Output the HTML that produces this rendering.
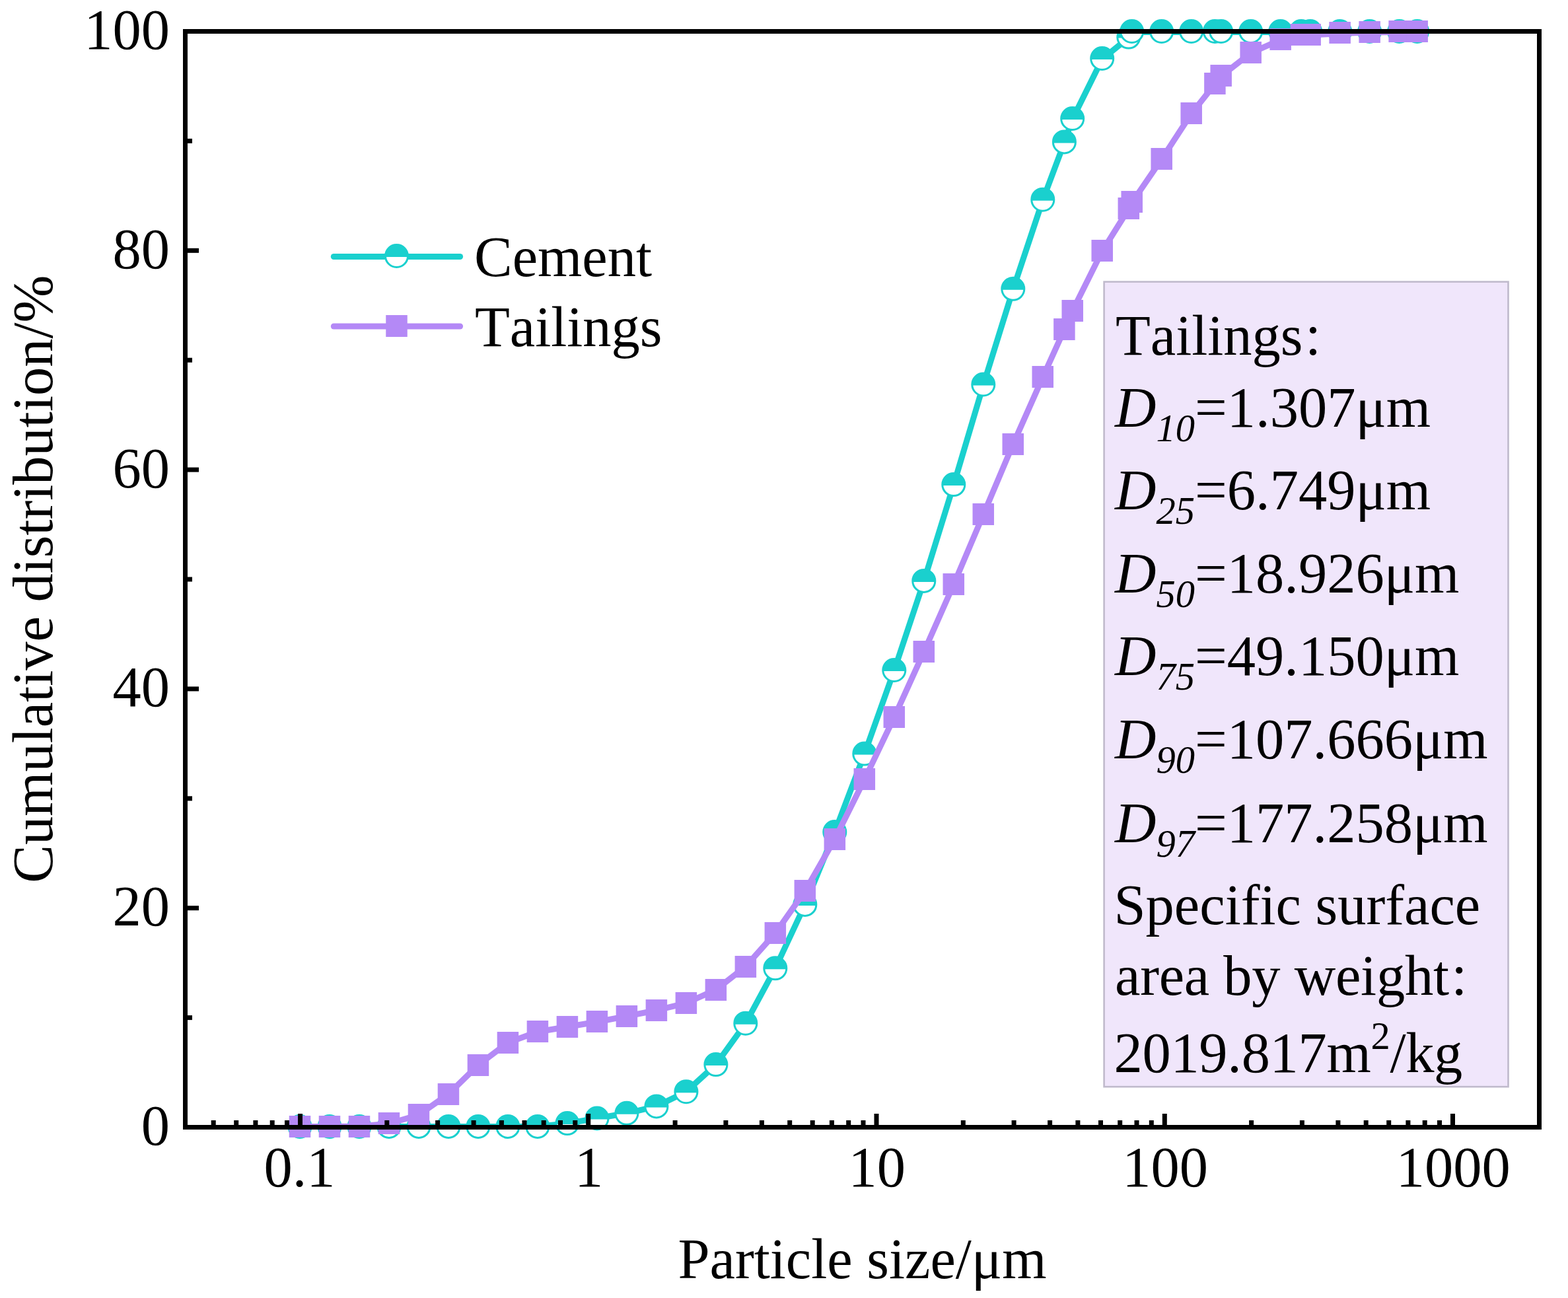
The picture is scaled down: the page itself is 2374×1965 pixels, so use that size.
<!DOCTYPE html>
<html lang="en"><head><meta charset="utf-8"><title>Particle size distribution</title>
<style>html,body{margin:0;padding:0;background:#fff}body{width:2374px;height:1965px;overflow:hidden}svg{display:block}text{font-family:"Liberation Serif", "Noto Sans CJK SC", serif;font-size:86.5px;fill:#000;font-kerning:none;font-variant-ligatures:none;white-space:pre}.it{font-style:italic}.sb{font-size:58.5px}.cn{font-size:66px}</style></head><body>
<svg width="2374" height="1965" viewBox="0 0 2374 1965">
<rect width="2374" height="1965" fill="#fff"/>
<rect x="1671.6" y="426.6" width="611.9" height="1218.6" fill="#f0e6fb" stroke="#c0bacc" stroke-width="2.6"/>
<g>
<polyline fill="none" stroke="#1ad0ce" stroke-width="9" stroke-linejoin="round" stroke-linecap="round" points="454.0,1705.4 499.0,1705.4 544.0,1705.4 589.0,1705.4 634.0,1705.4 679.0,1705.4 723.9,1705.4 768.9,1705.4 813.9,1705.4 858.9,1700.6 903.9,1693.0 948.9,1685.3 993.9,1674.9 1038.9,1652.7 1083.9,1611.7 1128.8,1549.3 1173.8,1465.9 1218.8,1369.6 1263.8,1259.8 1308.8,1141.4 1353.8,1014.9 1398.8,879.9 1443.8,734.2 1488.8,582.7 1533.8,438.1 1578.8,303.0 1611.4,215.8 1623.7,180.4 1668.7,89.5 1708.8,57.1 1713.7,48.5 1758.7,48.5 1803.7,48.5 1839.4,48.5 1848.7,48.5 1893.7,48.5 1938.7,48.5 1970.0,48.5 1983.7,48.5 2028.7,48.5 2073.6,48.5 2118.6,48.5 2145.7,48.5"/>
<circle cx="454.0" cy="1705.4" r="17.0" fill="#fff" stroke="#1ad0ce" stroke-width="3"/><path d="M436.56 1706.90A17.5 17.5 0 1 1 471.44 1706.90Z" fill="#1ad0ce"/>
<circle cx="499.0" cy="1705.4" r="17.0" fill="#fff" stroke="#1ad0ce" stroke-width="3"/><path d="M481.55 1706.90A17.5 17.5 0 1 1 516.43 1706.90Z" fill="#1ad0ce"/>
<circle cx="544.0" cy="1705.4" r="17.0" fill="#fff" stroke="#1ad0ce" stroke-width="3"/><path d="M526.54 1706.90A17.5 17.5 0 1 1 561.42 1706.90Z" fill="#1ad0ce"/>
<circle cx="589.0" cy="1705.4" r="17.0" fill="#fff" stroke="#1ad0ce" stroke-width="3"/><path d="M571.53 1706.90A17.5 17.5 0 1 1 606.41 1706.90Z" fill="#1ad0ce"/>
<circle cx="634.0" cy="1705.4" r="17.0" fill="#fff" stroke="#1ad0ce" stroke-width="3"/><path d="M616.52 1706.90A17.5 17.5 0 1 1 651.40 1706.90Z" fill="#1ad0ce"/>
<circle cx="679.0" cy="1705.4" r="17.0" fill="#fff" stroke="#1ad0ce" stroke-width="3"/><path d="M661.51 1706.90A17.5 17.5 0 1 1 696.39 1706.90Z" fill="#1ad0ce"/>
<circle cx="723.9" cy="1705.4" r="17.0" fill="#fff" stroke="#1ad0ce" stroke-width="3"/><path d="M706.50 1706.90A17.5 17.5 0 1 1 741.38 1706.90Z" fill="#1ad0ce"/>
<circle cx="768.9" cy="1705.4" r="17.0" fill="#fff" stroke="#1ad0ce" stroke-width="3"/><path d="M751.49 1706.90A17.5 17.5 0 1 1 786.37 1706.90Z" fill="#1ad0ce"/>
<circle cx="813.9" cy="1705.4" r="17.0" fill="#fff" stroke="#1ad0ce" stroke-width="3"/><path d="M796.48 1706.90A17.5 17.5 0 1 1 831.36 1706.90Z" fill="#1ad0ce"/>
<circle cx="858.9" cy="1700.6" r="17.0" fill="#fff" stroke="#1ad0ce" stroke-width="3"/><path d="M841.47 1702.10A17.5 17.5 0 1 1 876.35 1702.10Z" fill="#1ad0ce"/>
<circle cx="903.9" cy="1693.0" r="17.0" fill="#fff" stroke="#1ad0ce" stroke-width="3"/><path d="M886.46 1694.50A17.5 17.5 0 1 1 921.34 1694.50Z" fill="#1ad0ce"/>
<circle cx="948.9" cy="1685.3" r="17.0" fill="#fff" stroke="#1ad0ce" stroke-width="3"/><path d="M931.45 1686.80A17.5 17.5 0 1 1 966.33 1686.80Z" fill="#1ad0ce"/>
<circle cx="993.9" cy="1674.9" r="17.0" fill="#fff" stroke="#1ad0ce" stroke-width="3"/><path d="M976.44 1676.40A17.5 17.5 0 1 1 1011.32 1676.40Z" fill="#1ad0ce"/>
<circle cx="1038.9" cy="1652.7" r="17.0" fill="#fff" stroke="#1ad0ce" stroke-width="3"/><path d="M1021.43 1654.20A17.5 17.5 0 1 1 1056.31 1654.20Z" fill="#1ad0ce"/>
<circle cx="1083.9" cy="1611.6" r="17.0" fill="#fff" stroke="#1ad0ce" stroke-width="3"/><path d="M1066.42 1613.10A17.5 17.5 0 1 1 1101.30 1613.10Z" fill="#1ad0ce"/>
<circle cx="1128.8" cy="1549.2" r="17.0" fill="#fff" stroke="#1ad0ce" stroke-width="3"/><path d="M1111.41 1550.70A17.5 17.5 0 1 1 1146.29 1550.70Z" fill="#1ad0ce"/>
<circle cx="1173.8" cy="1465.8" r="17.0" fill="#fff" stroke="#1ad0ce" stroke-width="3"/><path d="M1156.40 1467.30A17.5 17.5 0 1 1 1191.28 1467.30Z" fill="#1ad0ce"/>
<circle cx="1218.8" cy="1369.4" r="17.0" fill="#fff" stroke="#1ad0ce" stroke-width="3"/><path d="M1201.39 1370.90A17.5 17.5 0 1 1 1236.27 1370.90Z" fill="#1ad0ce"/>
<circle cx="1263.8" cy="1259.5" r="17.0" fill="#fff" stroke="#1ad0ce" stroke-width="3"/><path d="M1246.38 1261.00A17.5 17.5 0 1 1 1281.26 1261.00Z" fill="#1ad0ce"/>
<circle cx="1308.8" cy="1141.1" r="17.0" fill="#fff" stroke="#1ad0ce" stroke-width="3"/><path d="M1291.37 1142.60A17.5 17.5 0 1 1 1326.25 1142.60Z" fill="#1ad0ce"/>
<circle cx="1353.8" cy="1014.5" r="17.0" fill="#fff" stroke="#1ad0ce" stroke-width="3"/><path d="M1336.36 1016.00A17.5 17.5 0 1 1 1371.24 1016.00Z" fill="#1ad0ce"/>
<circle cx="1398.8" cy="879.4" r="17.0" fill="#fff" stroke="#1ad0ce" stroke-width="3"/><path d="M1381.35 880.90A17.5 17.5 0 1 1 1416.23 880.90Z" fill="#1ad0ce"/>
<circle cx="1443.8" cy="733.6" r="17.0" fill="#fff" stroke="#1ad0ce" stroke-width="3"/><path d="M1426.34 735.10A17.5 17.5 0 1 1 1461.22 735.10Z" fill="#1ad0ce"/>
<circle cx="1488.8" cy="582.0" r="17.0" fill="#fff" stroke="#1ad0ce" stroke-width="3"/><path d="M1471.33 583.50A17.5 17.5 0 1 1 1506.21 583.50Z" fill="#1ad0ce"/>
<circle cx="1533.8" cy="437.3" r="17.0" fill="#fff" stroke="#1ad0ce" stroke-width="3"/><path d="M1516.32 438.80A17.5 17.5 0 1 1 1551.20 438.80Z" fill="#1ad0ce"/>
<circle cx="1578.8" cy="302.2" r="17.0" fill="#fff" stroke="#1ad0ce" stroke-width="3"/><path d="M1561.31 303.70A17.5 17.5 0 1 1 1596.19 303.70Z" fill="#1ad0ce"/>
<circle cx="1611.4" cy="214.9" r="17.0" fill="#fff" stroke="#1ad0ce" stroke-width="3"/><path d="M1593.96 216.40A17.5 17.5 0 1 1 1628.84 216.40Z" fill="#1ad0ce"/>
<circle cx="1623.7" cy="179.5" r="17.0" fill="#fff" stroke="#1ad0ce" stroke-width="3"/><path d="M1606.30 181.00A17.5 17.5 0 1 1 1641.18 181.00Z" fill="#1ad0ce"/>
<circle cx="1668.7" cy="88.5" r="17.0" fill="#fff" stroke="#1ad0ce" stroke-width="3"/><path d="M1651.29 90.00A17.5 17.5 0 1 1 1686.17 90.00Z" fill="#1ad0ce"/>
<circle cx="1708.8" cy="56.1" r="17.0" fill="#fff" stroke="#1ad0ce" stroke-width="3"/><path d="M1691.36 57.60A17.5 17.5 0 1 1 1726.24 57.60Z" fill="#1ad0ce"/>
<circle cx="1713.7" cy="47.5" r="17.0" fill="#fff" stroke="#1ad0ce" stroke-width="3"/><path d="M1696.28 49.00A17.5 17.5 0 1 1 1731.16 49.00Z" fill="#1ad0ce"/>
<circle cx="1758.7" cy="47.5" r="17.0" fill="#fff" stroke="#1ad0ce" stroke-width="3"/><path d="M1741.27 49.00A17.5 17.5 0 1 1 1776.15 49.00Z" fill="#1ad0ce"/>
<circle cx="1803.7" cy="47.5" r="17.0" fill="#fff" stroke="#1ad0ce" stroke-width="3"/><path d="M1786.26 49.00A17.5 17.5 0 1 1 1821.14 49.00Z" fill="#1ad0ce"/>
<circle cx="1839.4" cy="47.5" r="17.0" fill="#fff" stroke="#1ad0ce" stroke-width="3"/><path d="M1821.96 49.00A17.5 17.5 0 1 1 1856.84 49.00Z" fill="#1ad0ce"/>
<circle cx="1848.7" cy="47.5" r="17.0" fill="#fff" stroke="#1ad0ce" stroke-width="3"/><path d="M1831.25 49.00A17.5 17.5 0 1 1 1866.13 49.00Z" fill="#1ad0ce"/>
<circle cx="1893.7" cy="47.5" r="17.0" fill="#fff" stroke="#1ad0ce" stroke-width="3"/><path d="M1876.24 49.00A17.5 17.5 0 1 1 1911.12 49.00Z" fill="#1ad0ce"/>
<circle cx="1938.7" cy="47.5" r="17.0" fill="#fff" stroke="#1ad0ce" stroke-width="3"/><path d="M1921.23 49.00A17.5 17.5 0 1 1 1956.11 49.00Z" fill="#1ad0ce"/>
<circle cx="1970.0" cy="47.5" r="17.0" fill="#fff" stroke="#1ad0ce" stroke-width="3"/><path d="M1952.56 49.00A17.5 17.5 0 1 1 1987.44 49.00Z" fill="#1ad0ce"/>
<circle cx="1983.7" cy="47.5" r="17.0" fill="#fff" stroke="#1ad0ce" stroke-width="3"/><path d="M1966.22 49.00A17.5 17.5 0 1 1 2001.10 49.00Z" fill="#1ad0ce"/>
<circle cx="2028.7" cy="47.5" r="17.0" fill="#fff" stroke="#1ad0ce" stroke-width="3"/><path d="M2011.21 49.00A17.5 17.5 0 1 1 2046.09 49.00Z" fill="#1ad0ce"/>
<circle cx="2073.6" cy="47.5" r="17.0" fill="#fff" stroke="#1ad0ce" stroke-width="3"/><path d="M2056.20 49.00A17.5 17.5 0 1 1 2091.08 49.00Z" fill="#1ad0ce"/>
<circle cx="2118.6" cy="47.5" r="17.0" fill="#fff" stroke="#1ad0ce" stroke-width="3"/><path d="M2101.19 49.00A17.5 17.5 0 1 1 2136.07 49.00Z" fill="#1ad0ce"/>
<circle cx="2145.7" cy="47.5" r="17.0" fill="#fff" stroke="#1ad0ce" stroke-width="3"/><path d="M2128.26 49.00A17.5 17.5 0 1 1 2163.14 49.00Z" fill="#1ad0ce"/>
</g><g>
<polyline fill="none" stroke="#b489f6" stroke-width="9" stroke-linejoin="round" stroke-linecap="round" points="454.0,1705.4 499.0,1705.4 544.0,1705.2 589.0,1701.0 634.0,1687.9 679.0,1656.2 723.9,1612.5 768.9,1578.4 813.9,1562.0 858.9,1554.5 903.9,1547.0 948.9,1538.4 993.9,1529.5 1038.9,1518.5 1083.9,1498.4 1128.8,1463.3 1173.8,1412.8 1218.8,1348.9 1263.8,1270.5 1308.8,1180.2 1353.8,1086.0 1398.8,986.8 1443.8,885.0 1488.8,779.1 1533.8,672.6 1578.8,571.2 1611.4,499.0 1623.7,470.8 1668.7,380.3 1708.8,316.5 1713.7,306.7 1758.7,241.1 1803.7,172.3 1839.4,127.3 1848.7,115.4 1893.7,80.2 1938.7,60.4 1970.0,53.9 1983.7,53.0 2028.7,50.7 2073.6,49.0 2118.6,48.5 2145.7,48.5"/>
<rect x="437.75" y="1689.0" width="32.5" height="33" fill="#b489f6"/>
<rect x="482.74" y="1689.0" width="32.5" height="33" fill="#b489f6"/>
<rect x="527.73" y="1689.0" width="32.5" height="33" fill="#b489f6"/>
<rect x="572.72" y="1684.0" width="32.5" height="33" fill="#b489f6"/>
<rect x="617.71" y="1671.0" width="32.5" height="33" fill="#b489f6"/>
<rect x="662.70" y="1640.0" width="32.5" height="33" fill="#b489f6"/>
<rect x="707.69" y="1596.0" width="32.5" height="33" fill="#b489f6"/>
<rect x="752.68" y="1562.0" width="32.5" height="33" fill="#b489f6"/>
<rect x="797.67" y="1545.0" width="32.5" height="33" fill="#b489f6"/>
<rect x="842.66" y="1538.0" width="32.5" height="33" fill="#b489f6"/>
<rect x="887.65" y="1530.0" width="32.5" height="33" fill="#b489f6"/>
<rect x="932.64" y="1522.0" width="32.5" height="33" fill="#b489f6"/>
<rect x="977.63" y="1513.0" width="32.5" height="33" fill="#b489f6"/>
<rect x="1022.62" y="1502.0" width="32.5" height="33" fill="#b489f6"/>
<rect x="1067.61" y="1482.0" width="32.5" height="33" fill="#b489f6"/>
<rect x="1112.60" y="1447.0" width="32.5" height="33" fill="#b489f6"/>
<rect x="1157.59" y="1396.0" width="32.5" height="33" fill="#b489f6"/>
<rect x="1202.58" y="1332.0" width="32.5" height="33" fill="#b489f6"/>
<rect x="1247.57" y="1254.0" width="32.5" height="33" fill="#b489f6"/>
<rect x="1292.56" y="1163.0" width="32.5" height="33" fill="#b489f6"/>
<rect x="1337.55" y="1069.0" width="32.5" height="33" fill="#b489f6"/>
<rect x="1382.54" y="970.0" width="32.5" height="33" fill="#b489f6"/>
<rect x="1427.53" y="868.0" width="32.5" height="33" fill="#b489f6"/>
<rect x="1472.52" y="762.0" width="32.5" height="33" fill="#b489f6"/>
<rect x="1517.51" y="656.0" width="32.5" height="33" fill="#b489f6"/>
<rect x="1562.50" y="554.0" width="32.5" height="33" fill="#b489f6"/>
<rect x="1595.15" y="482.0" width="32.5" height="33" fill="#b489f6"/>
<rect x="1607.49" y="454.0" width="32.5" height="33" fill="#b489f6"/>
<rect x="1652.48" y="363.0" width="32.5" height="33" fill="#b489f6"/>
<rect x="1692.55" y="299.0" width="32.5" height="33" fill="#b489f6"/>
<rect x="1697.47" y="289.0" width="32.5" height="33" fill="#b489f6"/>
<rect x="1742.46" y="224.0" width="32.5" height="33" fill="#b489f6"/>
<rect x="1787.45" y="155.0" width="32.5" height="33" fill="#b489f6"/>
<rect x="1823.15" y="110.0" width="32.5" height="33" fill="#b489f6"/>
<rect x="1832.44" y="98.0" width="32.5" height="33" fill="#b489f6"/>
<rect x="1877.43" y="63.0" width="32.5" height="33" fill="#b489f6"/>
<rect x="1922.42" y="43.0" width="32.5" height="33" fill="#b489f6"/>
<rect x="1953.75" y="36.0" width="32.5" height="33" fill="#b489f6"/>
<rect x="1967.41" y="36.0" width="32.5" height="33" fill="#b489f6"/>
<rect x="2012.40" y="33.0" width="32.5" height="33" fill="#b489f6"/>
<rect x="2057.39" y="32.0" width="32.5" height="33" fill="#b489f6"/>
<rect x="2102.38" y="31.0" width="32.5" height="33" fill="#b489f6"/>
<rect x="2129.45" y="31.0" width="32.5" height="33" fill="#b489f6"/>
</g>
<line x1="505.3" y1="388.5" x2="696.6" y2="388.5" stroke="#1ad0ce" stroke-width="9" stroke-linecap="round"/>
<circle cx="600.5" cy="387.5" r="17.0" fill="#fff" stroke="#1ad0ce" stroke-width="3"/><path d="M583.06 389.00A17.5 17.5 0 1 1 617.94 389.00Z" fill="#1ad0ce"/>
<line x1="505.3" y1="494" x2="696.6" y2="494" stroke="#b489f6" stroke-width="9" stroke-linecap="round"/>
<rect x="584.25" y="477.0" width="32.5" height="33" fill="#b489f6"/>
<text x="718" y="418">Cement</text>
<text x="719" y="524">Tailings</text>
<g fill="#000">
<rect x="280.5" y="47.5" width="2050.0" height="1659.0" fill="none" stroke="#000" stroke-width="7"/>
<rect x="284.0" y="1537.1" width="7" height="7"/>
<rect x="284.0" y="1371.2" width="17" height="7"/>
<rect x="284.0" y="1205.3" width="7" height="7"/>
<rect x="284.0" y="1039.4" width="17" height="7"/>
<rect x="284.0" y="873.5" width="7" height="7"/>
<rect x="284.0" y="707.6" width="17" height="7"/>
<rect x="284.0" y="541.7" width="7" height="7"/>
<rect x="284.0" y="375.8" width="17" height="7"/>
<rect x="284.0" y="209.9" width="7" height="7"/>
<rect x="319.7" y="1696.0" width="7" height="7"/>
<rect x="354.2" y="1696.0" width="7" height="7"/>
<rect x="383.4" y="1696.0" width="7" height="7"/>
<rect x="408.7" y="1696.0" width="7" height="7"/>
<rect x="431.0" y="1696.0" width="7" height="7"/>
<rect x="451.0" y="1686.0" width="7" height="17"/>
<rect x="582.3" y="1696.0" width="7" height="7"/>
<rect x="659.1" y="1696.0" width="7" height="7"/>
<rect x="713.6" y="1696.0" width="7" height="7"/>
<rect x="755.9" y="1696.0" width="7" height="7"/>
<rect x="790.5" y="1696.0" width="7" height="7"/>
<rect x="819.7" y="1696.0" width="7" height="7"/>
<rect x="845.0" y="1696.0" width="7" height="7"/>
<rect x="867.3" y="1696.0" width="7" height="7"/>
<rect x="887.2" y="1686.0" width="7" height="17"/>
<rect x="1018.6" y="1696.0" width="7" height="7"/>
<rect x="1095.4" y="1696.0" width="7" height="7"/>
<rect x="1149.9" y="1696.0" width="7" height="7"/>
<rect x="1192.2" y="1696.0" width="7" height="7"/>
<rect x="1226.7" y="1696.0" width="7" height="7"/>
<rect x="1255.9" y="1696.0" width="7" height="7"/>
<rect x="1281.2" y="1696.0" width="7" height="7"/>
<rect x="1303.5" y="1696.0" width="7" height="7"/>
<rect x="1323.5" y="1686.0" width="7" height="17"/>
<rect x="1454.8" y="1696.0" width="7" height="7"/>
<rect x="1531.6" y="1696.0" width="7" height="7"/>
<rect x="1586.1" y="1696.0" width="7" height="7"/>
<rect x="1628.4" y="1696.0" width="7" height="7"/>
<rect x="1663.0" y="1696.0" width="7" height="7"/>
<rect x="1692.2" y="1696.0" width="7" height="7"/>
<rect x="1717.5" y="1696.0" width="7" height="7"/>
<rect x="1739.8" y="1696.0" width="7" height="7"/>
<rect x="1759.8" y="1686.0" width="7" height="17"/>
<rect x="1891.1" y="1696.0" width="7" height="7"/>
<rect x="1967.9" y="1696.0" width="7" height="7"/>
<rect x="2022.4" y="1696.0" width="7" height="7"/>
<rect x="2064.7" y="1696.0" width="7" height="7"/>
<rect x="2099.2" y="1696.0" width="7" height="7"/>
<rect x="2128.4" y="1696.0" width="7" height="7"/>
<rect x="2153.7" y="1696.0" width="7" height="7"/>
<rect x="2176.0" y="1696.0" width="7" height="7"/>
<rect x="2196.0" y="1686.0" width="7" height="17"/>
</g>
<text x="257" y="1733.0" text-anchor="end">0</text>
<text x="257" y="1401.2" text-anchor="end">20</text>
<text x="257" y="1069.4" text-anchor="end">40</text>
<text x="257" y="737.6" text-anchor="end">60</text>
<text x="257" y="405.8" text-anchor="end">80</text>
<text x="257" y="74.0" text-anchor="end">100</text>
<text x="453.5" y="1796" text-anchor="middle">0.1</text>
<text x="891.5" y="1796" text-anchor="middle">1</text>
<text x="1327.8" y="1796" text-anchor="middle">10</text>
<text x="1764.0" y="1796" text-anchor="middle">100</text>
<text x="2200.3" y="1796" text-anchor="middle">1000</text>
<text x="1305.5" y="1935" text-anchor="middle">Particle size/μm</text>
<text transform="translate(79,876.6) rotate(-90)" text-anchor="middle">Cumulative distribution/%</text>
<text x="1689" y="537">Tailings<tspan class="cn" dx="-1">：</tspan></text>
<text x="1688" y="646.3"><tspan class="it">D</tspan><tspan class="it sb" dy="22">10</tspan><tspan dy="-22">=1.307μm</tspan></text>
<text x="1688" y="771.2"><tspan class="it">D</tspan><tspan class="it sb" dy="22">25</tspan><tspan dy="-22">=6.749μm</tspan></text>
<text x="1688" y="896.8"><tspan class="it">D</tspan><tspan class="it sb" dy="22">50</tspan><tspan dy="-22">=18.926μm</tspan></text>
<text x="1688" y="1022.3"><tspan class="it">D</tspan><tspan class="it sb" dy="22">75</tspan><tspan dy="-22">=49.150μm</tspan></text>
<text x="1688" y="1147.8"><tspan class="it">D</tspan><tspan class="it sb" dy="22">90</tspan><tspan dy="-22">=107.666μm</tspan></text>
<text x="1688" y="1274.6"><tspan class="it">D</tspan><tspan class="it sb" dy="22">97</tspan><tspan dy="-22">=177.258μm</tspan></text>
<text x="1686.5" y="1399">Specific surface</text>
<text x="1688" y="1505.7" letter-spacing="-0.25">area by weight<tspan class="cn" dx="-1">：</tspan></text>
<text x="1686.5" y="1622.6" letter-spacing="-0.3">2019.817m<tspan class="sb" dy="-35">2</tspan><tspan dy="35">/kg</tspan></text>
</svg></body></html>
